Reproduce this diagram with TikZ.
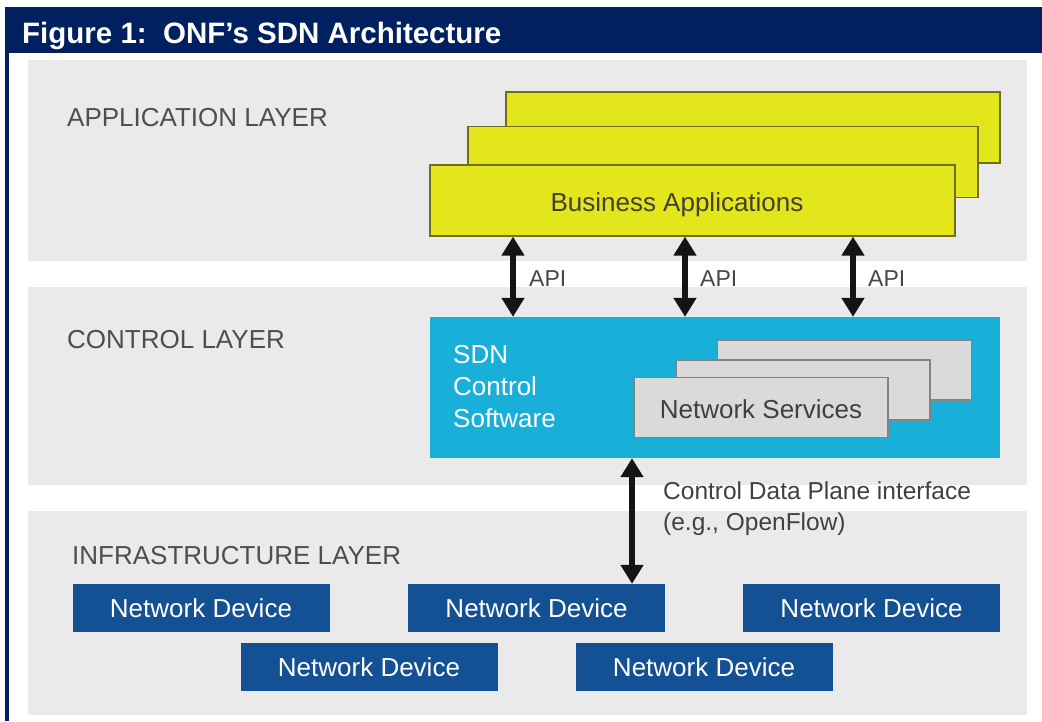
\documentclass[tikz,border=0pt]{standalone}
\usepackage{fontspec}
\setmainfont{Liberation Sans}
\usetikzlibrary{arrows.meta,calc}

\definecolor{navy}{RGB}{0,32,96}
\definecolor{band}{RGB}{234,234,234}
\definecolor{appyellow}{RGB}{228,230,28}
\definecolor{appedge}{RGB}{110,110,30}
\definecolor{ctlcyan}{RGB}{24,176,217}
\definecolor{svcgray}{RGB}{218,218,218}
\definecolor{svcedge}{RGB}{130,130,130}
\definecolor{devblue}{RGB}{20,80,148}
\definecolor{labelgray}{RGB}{78,78,78}

\tikzset{
  layerband/.style={fill=band},
  layerlabel/.style={anchor=base west, inner sep=0pt, text=labelgray,
    font=\fontsize{26}{30}\selectfont},
  appbox/.style={draw=appedge, line width=1.3pt, fill=appyellow,
    minimum height=71pt, inner sep=0pt},
  svcbox/.style={draw=svcedge, line width=1.2pt, fill=svcgray,
    minimum width=254pt, minimum height=60pt, inner sep=0pt},
  devbox/.style={fill=devblue, text=white, minimum width=257pt,
    minimum height=48pt, inner sep=0pt, font=\fontsize{26}{30}\selectfont},
  biarrow/.style={line width=6pt, black!92,
    {Triangle[width=22pt,length=19pt]}-{Triangle[width=22pt,length=19pt]}},
  apilabel/.style={anchor=base west, inner sep=0pt, text=black!72,
    font=\fontsize{23}{27}\selectfont},
}

\begin{document}
\begin{tikzpicture}[x=1pt,y=-1pt]
\useasboundingbox (0,0) rectangle (1042,721);
\fill[white] (0,0) rectangle (1042,721);

% frame: title bar and left rule
\fill[navy] (5,7) rectangle (1042,53);
\fill[navy] (5,53) rectangle (9,721);
\node[anchor=base west, inner sep=0pt, text=white,
      font=\fontsize{29.5}{34}\selectfont\bfseries] (title) at (22,43)
      {Figure 1:\ \ ONF’s SDN Architecture};

% layer bands
\fill[layerband] (28,60) rectangle (1027,261);
\fill[layerband] (28,287) rectangle (1027,485);
\fill[layerband] (28,511) rectangle (1027,715);

\node[layerlabel] (applab) at (67,126) {APPLICATION LAYER};
\node[layerlabel] (ctllab) at (67,348) {CONTROL LAYER};
\node[layerlabel] (inflab) at (72,564) {INFRASTRUCTURE LAYER};

% application layer: stacked business applications
\node[appbox, minimum width=494pt] (appback) at (753,127.5) {};
\node[appbox, minimum width=510pt] (appmid) at (723,162) {};
\node[appbox, minimum width=525pt] (appfront) at (692.5,200.5) {};
\node[anchor=base, inner sep=0pt, text=black!70!olive,
      font=\fontsize{26}{30}\selectfont] (applabel) at (677,211)
      {Business Applications};

% control layer
\node[fill=ctlcyan, minimum width=570pt, minimum height=141pt,
      inner sep=0pt] (ctl) at (715,387.5) {};
\node[anchor=north west, inner sep=0pt, align=left, text=white,
      font=\fontsize{26}{32}\selectfont] (ctltext) at (453,345.5)
      {SDN\\Control\\Software};

\node[svcbox] (svcback) at (844.5,370) {};
\node[svcbox] (svcmid) at (803,390) {};
\node[svcbox] (svcfront) at (761,407.5) {};
\node[anchor=base, inner sep=0pt, text=black!75,
      font=\fontsize{26}{30}\selectfont] (svclabel) at (761,418)
      {Network Services};

% API connectors
\coordinate (apia) at (513,0);
\coordinate (apib) at (685,0);
\coordinate (apic) at (853,0);
\draw[biarrow] (appfront.south -| apia) -- (ctl.north -| apia);
\draw[biarrow] (appfront.south -| apib) -- (ctl.north -| apib);
\draw[biarrow] (appfront.south -| apic) -- (ctl.north -| apic);
\node[apilabel] (apilaba) at (529,286) {API};
\node[apilabel] (apilabb) at (700,286) {API};
\node[apilabel] (apilabc) at (868,286) {API};

% infrastructure layer devices
\node[devbox] (deva) at (201,608) {Network Device};
\node[devbox] (devb) at (536.5,608) {Network Device};
\node[devbox] (devc) at (871.5,608) {Network Device};
\node[devbox] (devd) at (369,667) {Network Device};
\node[devbox] (deve) at (704,667) {Network Device};

% southbound interface
\coordinate (cdp) at (632,0);
\draw[biarrow] (ctl.south -| cdp) -- (devb.north -| cdp);
\node[anchor=north west, inner sep=0pt, align=left, text=black!75,
      font=\fontsize{24.5}{31}\selectfont] (cdplabel) at (663,482)
      {Control Data Plane interface\\(e.g., OpenFlow)};
\end{tikzpicture}
\end{document}
